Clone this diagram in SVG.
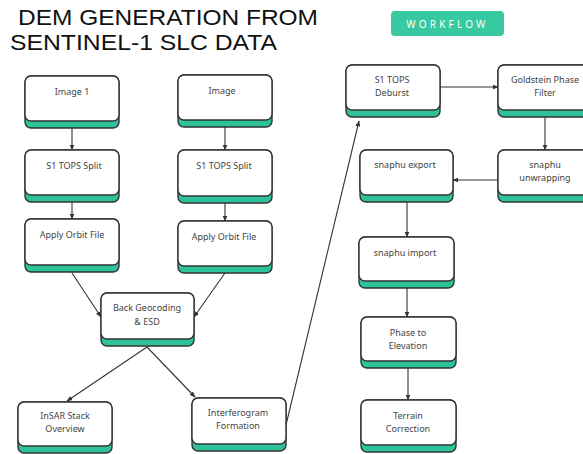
<svg xmlns="http://www.w3.org/2000/svg" width="583" height="454" viewBox="0 0 583 454">
<defs>
<style>
.title{font-family:"Liberation Sans","DejaVu Sans",sans-serif;font-size:22.4px;fill:#111;}
.lbl{font-family:"Noto Sans","Liberation Sans",sans-serif;font-size:9px;fill:#444;text-anchor:middle;}
.outer{fill:#2ec29a;stroke:#333;stroke-width:1.4;}
.inner{fill:#fff;stroke:#333;stroke-width:1.4;}
.edge{fill:none;stroke:#333;stroke-width:1.1;marker-end:url(#ah);}
</style>
<marker id="ah" viewBox="0 0 10 10" refX="9" refY="5" markerWidth="6" markerHeight="6" orient="auto-start-reverse" markerUnits="userSpaceOnUse">
<path d="M0,1 L10,5 L0,9 z" fill="#333"/>
</marker>
</defs>
<rect width="583" height="454" fill="#fff"/>
<text class="title" x="18" y="25" textLength="300" lengthAdjust="spacingAndGlyphs">DEM GENERATION FROM</text>
<text class="title" x="10" y="50" textLength="267" lengthAdjust="spacingAndGlyphs">SENTINEL-1 SLC DATA</text>
<g id="badge">
<rect x="391" y="11" width="113" height="25" rx="4" fill="#37c9a0"/>
<text x="447.5" y="27.5" font-family="'Noto Sans','Liberation Sans',sans-serif" font-size="10" fill="#fff" text-anchor="middle" letter-spacing="3.2">WORKFLOW</text>
</g>
<g id="connectors">
<line class="edge" x1="72" y1="128" x2="72" y2="150"/>
<line class="edge" x1="225" y1="127" x2="225" y2="150"/>
<line class="edge" x1="72" y1="202" x2="72" y2="219"/>
<line class="edge" x1="225" y1="203" x2="225" y2="221"/>
<line class="edge" x1="72" y1="273" x2="101" y2="317"/>
<line class="edge" x1="225" y1="273" x2="194" y2="317"/>
<line class="edge" x1="147" y1="347" x2="67" y2="401"/>
<line class="edge" x1="147" y1="347" x2="195" y2="397"/>
<line class="edge" x1="286" y1="425" x2="359" y2="121"/>
<line class="edge" x1="440" y1="87" x2="498" y2="87"/>
<line class="edge" x1="545" y1="117" x2="545" y2="150"/>
<line class="edge" x1="498" y1="180" x2="453" y2="180"/>
<line class="edge" x1="407" y1="202" x2="407" y2="237"/>
<line class="edge" x1="407" y1="288" x2="407" y2="317"/>
<line class="edge" x1="408" y1="368" x2="408" y2="400"/>
</g>
<g id="n-image1">
<rect class="outer" x="25" y="76" width="94" height="52" rx="6"/>
<rect class="inner" x="25" y="76" width="94" height="45" rx="6"/>
<text class="lbl" x="72" y="95">Image 1</text>
</g>
<g id="n-image">
<rect class="outer" x="178" y="75" width="94" height="52" rx="6"/>
<rect class="inner" x="178" y="75" width="94" height="45" rx="6"/>
<text class="lbl" x="222" y="94">Image</text>
</g>
<g id="n-split1">
<rect class="outer" x="25" y="150" width="94" height="52" rx="6"/>
<rect class="inner" x="25" y="150" width="94" height="45" rx="6"/>
<text class="lbl" x="74" y="169">S1 TOPS Split</text>
</g>
<g id="n-split2">
<rect class="outer" x="178" y="150" width="94" height="53" rx="6"/>
<rect class="inner" x="178" y="150" width="94" height="46" rx="6"/>
<text class="lbl" x="224" y="169">S1 TOPS Split</text>
</g>
<g id="n-orbit1">
<rect class="outer" x="25" y="219" width="94" height="53" rx="6"/>
<rect class="inner" x="25" y="219" width="94" height="46" rx="6"/>
<text class="lbl" x="72" y="238">Apply Orbit File</text>
</g>
<g id="n-orbit2">
<rect class="outer" x="178" y="221" width="94" height="52" rx="6"/>
<rect class="inner" x="178" y="221" width="94" height="45" rx="6"/>
<text class="lbl" x="224" y="240">Apply Orbit File</text>
</g>
<g id="n-backgeo">
<rect class="outer" x="101" y="293" width="93" height="53" rx="6"/>
<rect class="inner" x="101" y="293" width="93" height="46" rx="6"/>
<text class="lbl" x="147" y="311">Back Geocoding</text>
<text class="lbl" x="147" y="325">&amp; ESD</text>
</g>
<g id="n-insar">
<rect class="outer" x="18" y="402" width="94" height="51" rx="6"/>
<rect class="inner" x="18" y="402" width="94" height="44" rx="6"/>
<text class="lbl" x="65" y="419">InSAR Stack</text>
<text class="lbl" x="65" y="432">Overview</text>
</g>
<g id="n-ifg">
<rect class="outer" x="192" y="398" width="94" height="53" rx="6"/>
<rect class="inner" x="192" y="398" width="94" height="46" rx="6"/>
<text class="lbl" x="238" y="416">Interferogram</text>
<text class="lbl" x="238" y="429">Formation</text>
</g>
<g id="n-deburst">
<rect class="outer" x="346" y="65" width="94" height="52" rx="6"/>
<rect class="inner" x="346" y="65" width="94" height="45" rx="6"/>
<text class="lbl" x="392" y="83">S1 TOPS</text>
<text class="lbl" x="392" y="96">Deburst</text>
</g>
<g id="n-goldstein">
<rect class="outer" x="498" y="65" width="94" height="52" rx="6"/>
<rect class="inner" x="498" y="65" width="94" height="45" rx="6"/>
<text class="lbl" x="545" y="83">Goldstein Phase</text>
<text class="lbl" x="545" y="96">Filter</text>
</g>
<g id="n-unwrap">
<rect class="outer" x="498" y="150" width="94" height="52" rx="6"/>
<rect class="inner" x="498" y="150" width="94" height="45" rx="6"/>
<text class="lbl" x="545" y="168">snaphu</text>
<text class="lbl" x="545" y="181">unwrapping</text>
</g>
<g id="n-export">
<rect class="outer" x="360" y="150" width="93" height="52" rx="6"/>
<rect class="inner" x="360" y="150" width="93" height="45" rx="6"/>
<text class="lbl" x="405" y="168">snaphu export</text>
</g>
<g id="n-import">
<rect class="outer" x="359" y="237" width="95" height="51" rx="6"/>
<rect class="inner" x="359" y="237" width="95" height="44" rx="6"/>
<text class="lbl" x="405" y="256">snaphu import</text>
</g>
<g id="n-phase">
<rect class="outer" x="361" y="317" width="95" height="51" rx="6"/>
<rect class="inner" x="361" y="317" width="95" height="44" rx="6"/>
<text class="lbl" x="408" y="336">Phase to</text>
<text class="lbl" x="408" y="349">Elevation</text>
</g>
<g id="n-terrain">
<rect class="outer" x="361" y="400" width="95" height="52" rx="6"/>
<rect class="inner" x="361" y="400" width="95" height="45" rx="6"/>
<text class="lbl" x="408" y="419">Terrain</text>
<text class="lbl" x="408" y="432">Correction</text>
</g>
</svg>
